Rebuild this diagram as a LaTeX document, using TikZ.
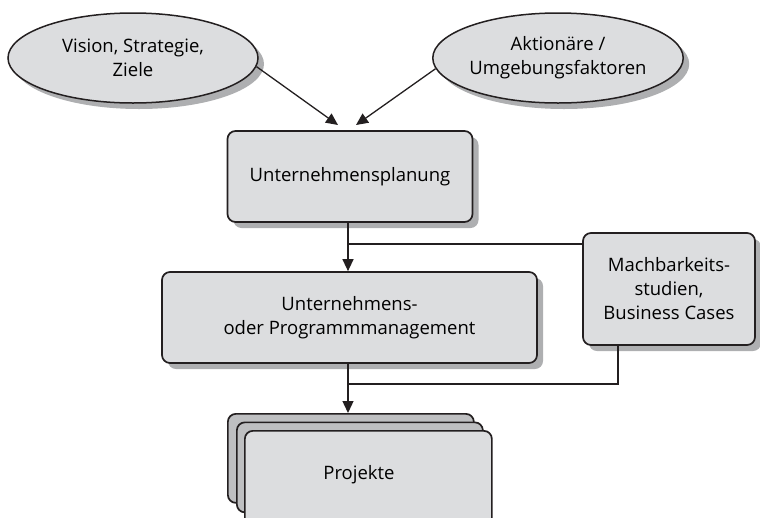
\documentclass[tikz,border=0pt]{standalone}
\usepackage{fontspec}
\setmainfont{Open Sans}
\usetikzlibrary{shapes.geometric,shadows,arrows.meta}

\definecolor{boxfill}{HTML}{DCDDDF}
\definecolor{backfill}{HTML}{BEBFC1}
\definecolor{shadowfill}{HTML}{AEAFB1}
\definecolor{ink}{HTML}{231F20}

\tikzset{
  labelfont/.style={font=\fontsize{18.5}{24}\selectfont},
  shade3/.style={drop shadow={shadow xshift=6pt, shadow yshift=-6pt, fill=shadowfill, opacity=1}},
  oval/.style={ellipse, draw=ink, line width=1.5pt, fill=boxfill, shade3,
    inner sep=0pt, align=center, labelfont},
  card/.style={rectangle, draw=ink, line width=1.7pt, fill=boxfill, shade3,
    rounded corners=8pt, inner sep=0pt, align=center, labelfont},
  page/.style={rectangle, draw=ink, line width=1.7pt, rounded corners=8pt, inner sep=0pt},
  link/.style={draw=ink, line width=1.3pt},
  flow/.style={link, -{Triangle[length=12pt,width=11pt]}},
}

\begin{document}
\begin{tikzpicture}[x=1pt,y=-1pt]
\useasboundingbox (0,0) rectangle (760,517);
\clip (0,0) rectangle (760,517);

% inputs
\node[oval, minimum width=250pt, minimum height=90pt] (vision) at (133,58)
  {Vision, Strategie,\\Ziele};
\node[oval, minimum width=250pt, minimum height=90pt] (aktion) at (558,58)
  {Aktionäre /\\Umgebungsfaktoren};

% planning and management
\node[card, minimum width=245pt, minimum height=91pt] (plan) at (350,176.5)
  {Unternehmensplanung};
\node[card, minimum width=375pt, minimum height=91pt] (mgmt) at (349.5,317.5)
  {Unternehmens-\\oder Programmmanagement};
\node[card, minimum width=172pt, minimum height=112pt] (mach) at (669,289)
  {Machbarkeits-\\studien,\\Business Cases};

% stack of project cards
\node[page, fill=backfill, minimum width=246pt, minimum height=89pt, anchor=north west] (p1) at (227,413) {};
\node[page, fill=backfill, minimum width=246pt, minimum height=90pt, anchor=north west] (p2) at (236,421.5) {};
\node[page, fill=boxfill, minimum width=247pt, minimum height=110pt, anchor=north west] (p3) at (244,430) {};
\node[labelfont] (projtext) at (359,475) {Projekte};

% connectors
\coordinate (t1) at (338,125);
\coordinate (t2) at (356,125);
\draw[flow] (vision.-4) -- (t1);
\draw[flow] (aktion.185) -- (t2);

\coordinate (j1) at (348,244);
\draw[flow] (plan.south -| j1) -- (mgmt.north -| j1);
\draw[link] (j1) -- (j1 -| mach.west);

\coordinate (j2) at (348,384);
\coordinate (m2) at (618,384);
\draw[flow] (mgmt.south -| j2) -- (p1.north -| j2);
\draw[link] (mach.south -| m2) -- (m2) -- (j2);
\end{tikzpicture}
\end{document}
